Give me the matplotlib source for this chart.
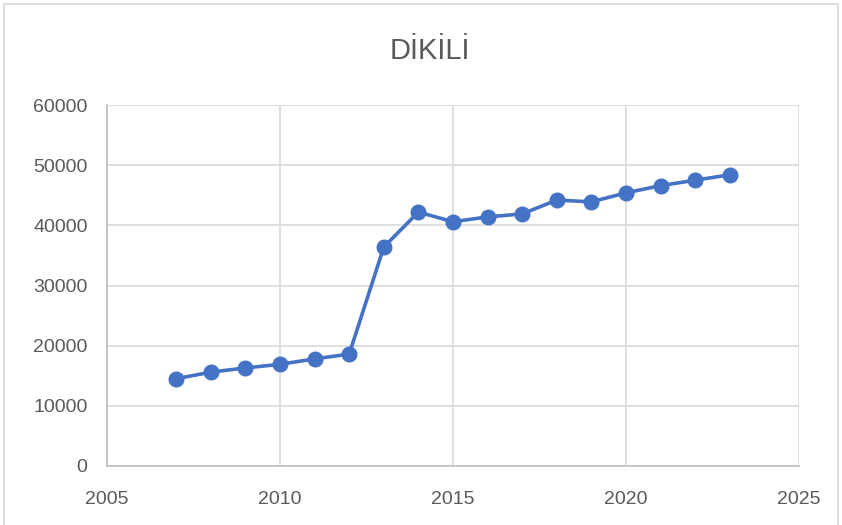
import matplotlib.pyplot as plt
from matplotlib.patches import Rectangle

# yearly values
years = [2007, 2008, 2009, 2010, 2011, 2012, 2013, 2014, 2015,
         2016, 2017, 2018, 2019, 2020, 2021, 2022, 2023]
values = [14500, 15600, 16300, 16900, 17800, 18600, 36400, 42200, 40600,
          41400, 41900, 44200, 43900, 45400, 46600, 47500, 48400]
x_ticks = [2005, 2010, 2015, 2020, 2025]
y_ticks = [0, 10000, 20000, 30000, 40000, 50000, 60000]

plt.rcParams['font.family'] = ['Liberation Sans', 'DejaVu Sans']

fig = plt.figure(figsize=(8.42, 5.25), dpi=100)
ax = fig.add_axes([107/842, 59/525, 692/842, 361/525])

# chart border like an Excel chart object
fig.patches.append(Rectangle((4/842, -0.05), 834/842, 1.05 - 4/525,
                             transform=fig.transFigure, fill=False,
                             edgecolor='#d9d9d9', linewidth=1.2))

ax.plot(years, values, color='#4472c4', linewidth=2.6,
        marker='o', markersize=10.5, zorder=3)

ax.set_xlim(2005, 2025)
ax.set_ylim(0, 60000)
ax.set_xticks(x_ticks)
ax.set_yticks(y_ticks)
ax.grid(True, color='#d9d9d9', linewidth=1.2)
ax.set_axisbelow(True)

for side in ['top', 'right']:
    ax.spines[side].set_visible(False)
for side in ['left', 'bottom']:
    ax.spines[side].set_color('#bfbfbf')
    ax.spines[side].set_linewidth(1.2)

ax.tick_params(axis='both', length=0, labelsize=14, labelcolor='#595959')
ax.tick_params(axis='x', pad=18)
ax.tick_params(axis='y', pad=14)

fig.text(0.51, 0.903, 'DİKİLİ', ha='center', va='center',
         fontsize=21, color='#595959')

plt.savefig('out.png', dpi=100)
